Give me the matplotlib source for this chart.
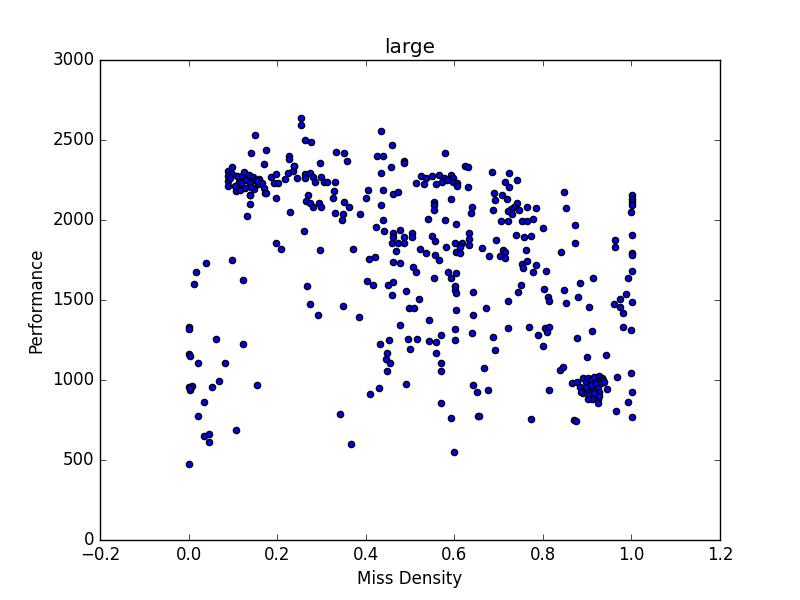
import numpy as np
import matplotlib
matplotlib.use('Agg')
import matplotlib.pyplot as plt

plt.style.use('classic')

# points, grouped by region of the plot
low_x = [0.002, 0.002, 0.002, 0.004, 0.002, 0.007, 0.004, 0.013, 0.016, 0.021, 0.022, 0.034,
         0.034, 0.040, 0.045, 0.047, 0.054, 0.061, 0.068, 0.083, 0.097, 0.108, 0.124, 0.124,
         0.154, 0.002, 0.003]
low_y = [1333, 1320, 1160, 1150, 954, 962, 940, 1598, 1673, 1104, 773, 860,
         648, 1729, 610, 660, 954, 1254, 992, 1104, 1748, 685, 1223, 1623,
         967, 473, 950]

band_x = [0.088, 0.088, 0.088, 0.088, 0.099, 0.099, 0.109, 0.113, 0.121, 0.126, 0.130, 0.136,
          0.139, 0.145, 0.151, 0.156, 0.160, 0.166, 0.170, 0.173, 0.107, 0.117, 0.128, 0.138,
          0.147, 0.185, 0.192, 0.198, 0.203, 0.217, 0.224, 0.236, 0.237, 0.245, 0.262, 0.262,
          0.275, 0.281, 0.286, 0.299, 0.305, 0.313, 0.330, 0.328, 0.326, 0.331, 0.348, 0.346,
          0.350, 0.362, 0.269, 0.266, 0.274, 0.281, 0.294, 0.299, 0.197, 0.228, 0.260, 0.197,
          0.208, 0.296, 0.131, 0.138, 0.138, 0.175, 0.267, 0.274, 0.348, 0.292, 0.343, 0.366,
          0.094, 0.104, 0.118, 0.142, 0.155]
band_y = [2304, 2275, 2244, 2213, 2329, 2288, 2275, 2240, 2275, 2300, 2250, 2281,
          2229, 2267, 2250, 2225, 2258, 2233, 2198, 2167, 2181, 2188, 2198, 2156,
          2192, 2271, 2229, 2288, 2233, 2254, 2296, 2306, 2335, 2265, 2288, 2263,
          2296, 2267, 2240, 2267, 2240, 2238, 2238, 2183, 2135, 2042, 2038, 2000,
          2115, 2079, 2154, 2121, 2108, 2079, 2104, 2083, 2135, 2048, 1929, 1854,
          1817, 1810, 2023, 2098, 2154, 2167, 1585, 1473, 1460, 1404, 785, 600,
          2260, 2210, 2230, 2205, 2245]

top_x = [0.253, 0.253, 0.149, 0.262, 0.276, 0.140, 0.174, 0.226, 0.226, 0.170, 0.332, 0.350,
         0.357, 0.296, 0.237, 0.434, 0.459, 0.425, 0.439, 0.486, 0.486, 0.457, 0.434]
top_y = [2640, 2592, 2529, 2498, 2486, 2417, 2435, 2398, 2379, 2348, 2423, 2417,
         2367, 2354, 2335, 2554, 2467, 2398, 2398, 2367, 2354, 2329, 2292]

mid_x = [0.579, 0.624, 0.631, 0.525, 0.537, 0.550, 0.565, 0.577, 0.593, 0.598, 0.513, 0.531,
         0.559, 0.572, 0.583, 0.596, 0.607, 0.607, 0.631, 0.405, 0.439, 0.461, 0.473, 0.400,
         0.434, 0.387, 0.554, 0.554, 0.554, 0.593, 0.640, 0.637, 0.540, 0.579, 0.604, 0.439,
         0.423, 0.441, 0.461, 0.461, 0.477, 0.486, 0.504, 0.504, 0.460, 0.473, 0.486, 0.550,
         0.556, 0.581, 0.602, 0.617, 0.633, 0.633, 0.633, 0.613, 0.603, 0.614, 0.371, 0.468,
         0.522, 0.536, 0.556, 0.565, 0.407, 0.421, 0.461, 0.477, 0.507, 0.513, 0.554, 0.586,
         0.604, 0.593, 0.602, 0.602, 0.604, 0.642, 0.402, 0.416, 0.450, 0.461, 0.459, 0.491,
         0.520, 0.497, 0.509, 0.604, 0.384, 0.642, 0.477, 0.543, 0.602, 0.640, 0.569, 0.432,
         0.452, 0.495, 0.516, 0.500, 0.543, 0.559, 0.602, 0.448, 0.446, 0.455, 0.448, 0.559,
         0.570, 0.570, 0.491, 0.430, 0.409, 0.642, 0.652, 0.570, 0.593, 0.654, 0.599]
mid_y = [2417, 2338, 2329, 2275, 2260, 2275, 2281, 2265, 2281, 2265, 2231, 2223,
         2225, 2240, 2253, 2240, 2233, 2213, 2204, 2185, 2185, 2163, 2175, 2135,
         2092, 2035, 2113, 2094, 2063, 2129, 2079, 2042, 2004, 1998, 1973, 1998,
         1954, 1929, 1917, 1896, 1935, 1896, 1917, 1892, 1858, 1858, 1858, 1898,
         1867, 1831, 1858, 1858, 1917, 1879, 1844, 1833, 1802, 1792, 1817, 1804,
         1819, 1792, 1779, 1748, 1754, 1767, 1735, 1729, 1708, 1677, 1635, 1677,
         1671, 1640, 1590, 1563, 1546, 1550, 1617, 1592, 1592, 1610, 1531, 1554,
         1504, 1452, 1452, 1438, 1394, 1406, 1342, 1373, 1317, 1292, 1279, 1223,
         1248, 1254, 1254, 1196, 1242, 1235, 1248, 1167, 1129, 1104, 1054, 1167,
         1104, 1054, 973, 948, 910, 967, 923, 854, 760, 773, 548]

right_x = [0.685, 0.724, 0.715, 0.742, 0.724, 0.690, 0.692, 0.708, 0.719, 0.688, 0.742, 0.735,
           0.728, 0.721, 0.746, 0.764, 0.785, 0.731, 0.706, 0.721, 0.753, 0.764, 0.778, 0.801,
           0.848, 0.853, 0.873, 0.873, 0.841, 0.740, 0.758, 0.774, 0.694, 0.663, 0.679, 0.710,
           0.715, 0.703, 0.715, 0.762, 0.753, 0.764, 0.755, 0.785, 0.778, 0.807, 0.751, 0.744,
           0.803, 0.812, 0.814, 0.848, 0.853, 0.884, 0.914, 0.880, 0.905, 0.721, 0.672, 0.721,
           0.769, 0.789, 0.805, 0.814, 0.810, 0.801, 0.688, 0.692, 0.878, 0.912, 0.900, 0.667,
           0.839, 0.846, 0.677, 0.814, 0.656, 0.774, 0.871, 0.875]
right_y = [2298, 2292, 2235, 2248, 2204, 2167, 2125, 2154, 2129, 2060, 2104, 2079,
           2067, 2054, 2060, 2079, 2073, 2035, 1992, 1992, 1992, 1992, 2004, 1948,
           2173, 2073, 1967, 1854, 1798, 1904, 1892, 1898, 1873, 1823, 1773, 1810,
           1798, 1773, 1760, 1810, 1723, 1742, 1698, 1717, 1673, 1679, 1592, 1548,
           1569, 1517, 1492, 1563, 1479, 1604, 1635, 1517, 1454, 1492, 1448, 1323,
           1329, 1279, 1323, 1333, 1302, 1210, 1267, 1185, 1260, 1304, 1142, 1073,
           1060, 1079, 935, 935, 773, 754, 748, 742]

edge_x = [1.002, 1.002, 1.002, 1.002, 0.998, 1.002, 0.964, 0.964, 1.002, 1.002, 1.002, 0.993,
          0.988, 0.975, 0.961, 0.975, 1.002, 0.982, 0.982, 1.000, 0.943, 1.000, 0.968, 1.002,
          0.993, 0.966, 1.002, 0.945]
edge_y = [2154, 2133, 2113, 2096, 2048, 1904, 1875, 1833, 1792, 1779, 1679, 1635,
          1535, 1504, 1473, 1454, 1485, 1417, 1331, 1310, 1154, 1042, 1017, 923,
          860, 806, 767, 942]

cluster_x = [0.865, 0.878, 0.884, 0.891, 0.897, 0.902, 0.909, 0.916, 0.927, 0.933, 0.893, 0.901,
             0.912, 0.924, 0.927, 0.905, 0.912, 0.924, 0.927, 0.925, 0.890, 0.935, 0.886, 0.897,
             0.909, 0.920, 0.931, 0.939, 0.901, 0.916]
cluster_y = [981, 990, 958, 1010, 990, 1010, 1000, 1017, 1025, 1010, 938, 933,
             948, 958, 927, 906, 879, 879, 900, 854, 917, 1000, 927, 958,
             969, 979, 979, 990, 879, 917]

x = low_x + band_x + top_x + mid_x + right_x + edge_x + cluster_x
y = low_y + band_y + top_y + mid_y + right_y + edge_y + cluster_y

fig = plt.figure(figsize=(8, 6), dpi=100)
ax = fig.add_subplot(111)
ax.scatter(x, y, c='b', s=20)
ax.set_xlim(-0.2, 1.2)
ax.set_ylim(0, 3000)
ax.set_title('large')
ax.set_xlabel('Miss Density')
ax.set_ylabel('Performance')
fig.savefig('out.png', dpi=100)
